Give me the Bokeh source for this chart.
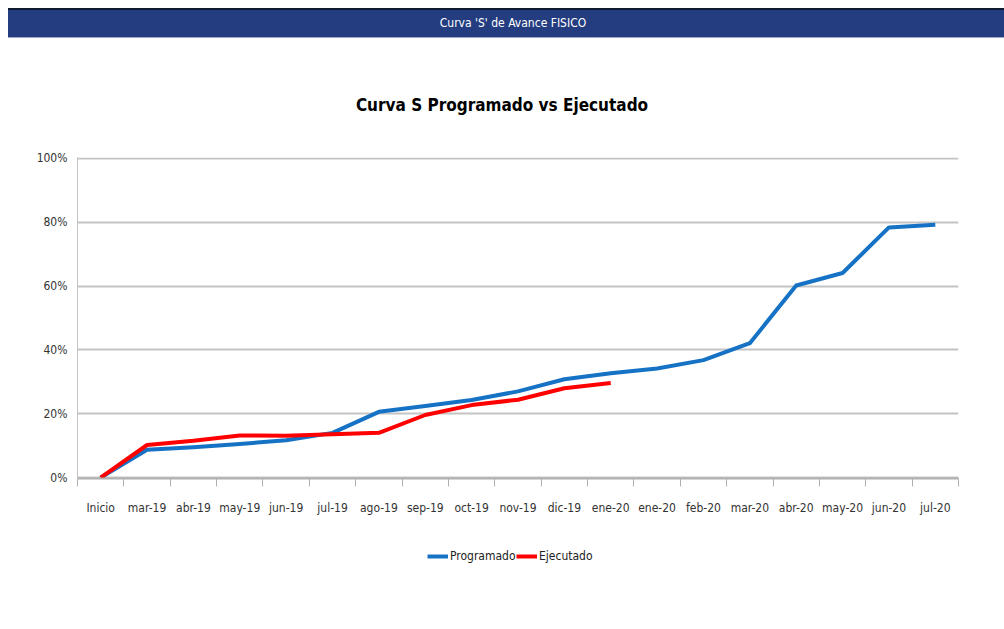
from bokeh.plotting import figure
from bokeh.models import (Range1d, FixedTicker, Legend, LegendItem, Div, ColumnDataSource)
from bokeh.layouts import column
from bokeh.embed import file_html
from bokeh.resources import INLINE

categories = ["Inicio", "mar-19", "abr-19", "may-19", "jun-19", "jul-19", "ago-19",
              "sep-19", "oct-19", "nov-19", "dic-19", "ene-20", "ene-20", "feb-20",
              "mar-20", "abr-20", "may-20", "jun-20", "jul-20"]
programado = [0, 8.7, 9.5, 10.5, 11.7, 14.0, 20.6, 22.4, 24.3, 27.0, 30.8, 32.7,
              34.2, 36.8, 42.1, 60.2, 64.1, 78.4, 79.2]
ejecutado = [0, 10.2, 11.5, 13.2, 13.1, 13.6, 14.0, 19.6, 22.7, 24.4, 28.0, 29.6]
y_ticks = [0, 20, 40, 60, 80, 100]
y_tick_labels = ["0%", "20%", "40%", "60%", "80%", "100%"]

FONT = "DejaVu Sans Condensed, Liberation Sans Narrow, Liberation Sans, sans-serif"
W = 988
BLUE = "#1672c4"
RED = "#ff0000"

header = Div(text="Curva 'S' de Avance FISICO", width=996, height=30, margin=(8, 0, 0, 8),
             styles={"background-color": "#233d80", "color": "white", "text-align": "center",
                     "line-height": "26px", "font-size": "12px",
                     "font-family": FONT, "border-top": "2px solid #111a33",
                     "border-bottom": "1px solid #9aa6c8", "box-sizing": "border-box",
                     "padding-left": "14px"})

title = Div(text="Curva S Programado vs Ejecutado", width=W, height=90, margin=(0, 0, 0, 8),
            styles={"text-align": "center", "color": "#000000", "font-family": FONT,
                    "font-size": "17px", "font-weight": "bold", "line-height": "24px",
                    "padding-top": "55px", "box-sizing": "border-box"})

xs = list(range(len(categories)))
src_p = ColumnDataSource(dict(x=xs, y=programado))
src_e = ColumnDataSource(dict(x=xs[:len(ejecutado)], y=ejecutado))

p = figure(width=W, height=395, output_backend="svg", toolbar_location=None,
           x_range=Range1d(-0.5, len(categories) - 0.5), y_range=Range1d(-0.3, 100.3),
           min_border_left=69, min_border_right=38, min_border_top=29, min_border_bottom=45,
           outline_line_color=None, margin=(0, 0, 0, 8))

p.xgrid.grid_line_color = None
p.ygrid.grid_line_color = "#c4c4c4"
p.ygrid.grid_line_width = 2
p.ygrid.ticker = FixedTicker(ticks=y_ticks)

p.yaxis.ticker = FixedTicker(ticks=y_ticks)
p.yaxis.major_label_overrides = {t: l for t, l in zip(y_ticks, y_tick_labels)}
p.yaxis.major_tick_line_color = None
p.yaxis.minor_tick_line_color = None
p.yaxis.major_tick_out = 0
p.yaxis.axis_line_color = "#c4c4c4"
p.yaxis.axis_line_width = 1
p.yaxis.major_label_standoff = 10
p.yaxis.major_label_text_font = FONT
p.yaxis.major_label_text_font_size = "12px"
p.yaxis.major_label_text_color = "#333333"

p.xaxis.ticker = FixedTicker(ticks=xs, minor_ticks=[i - 0.5 for i in range(len(categories) + 1)])
p.xaxis.major_label_overrides = {i: c for i, c in enumerate(categories)}
p.xaxis.major_tick_line_color = None
p.xaxis.major_tick_out = 0
p.xaxis.minor_tick_line_color = "#b0b0b0"
p.xaxis.minor_tick_out = 8
p.xaxis.minor_tick_in = 0
p.xaxis.minor_tick_line_width = 1
p.xaxis.axis_line_color = "#b0b0b0"
p.xaxis.axis_line_width = 2
p.xaxis.major_label_standoff = 14
p.xaxis.major_label_text_font = FONT
p.xaxis.major_label_text_font_size = "12px"
p.xaxis.major_label_text_color = "#333333"

p.line("x", "y", source=src_p, line_color=BLUE, line_width=4, line_join="round")
p.line("x", "y", source=src_e, line_color=RED, line_width=4, line_join="round")

# legend strip below the chart (series drawn outside its visible range, only the legend shows)
pl = figure(width=W, height=60, output_backend="svg", toolbar_location=None,
            x_range=Range1d(0, W), y_range=Range1d(1000, 1060),
            min_border_left=0, min_border_right=0, min_border_top=0, min_border_bottom=0,
            outline_line_color=None, margin=(0, 0, 0, 8))
pl.axis.visible = False
pl.grid.visible = False
lr1 = pl.line("x", "y", source=src_p, line_color=BLUE, line_width=4)
lr2 = pl.line("x", "y", source=src_e, line_color=RED, line_width=4)
legend = Legend(items=[LegendItem(label="Programado", renderers=[lr1]),
                       LegendItem(label="Ejecutado", renderers=[lr2])],
                orientation="horizontal", location=(350, 20),
                border_line_color=None, background_fill_alpha=0,
                label_text_font=FONT, label_text_font_size="12px", label_text_color="#222222",
                glyph_width=21, label_standoff=2, spacing=0, label_width=66,
                padding=0, margin=0, label_height=14, glyph_height=14)
pl.add_layout(legend, "center")

layout = column(header, title, p, pl, spacing=0)

open("out.html", "w").write(file_html(layout, INLINE))
